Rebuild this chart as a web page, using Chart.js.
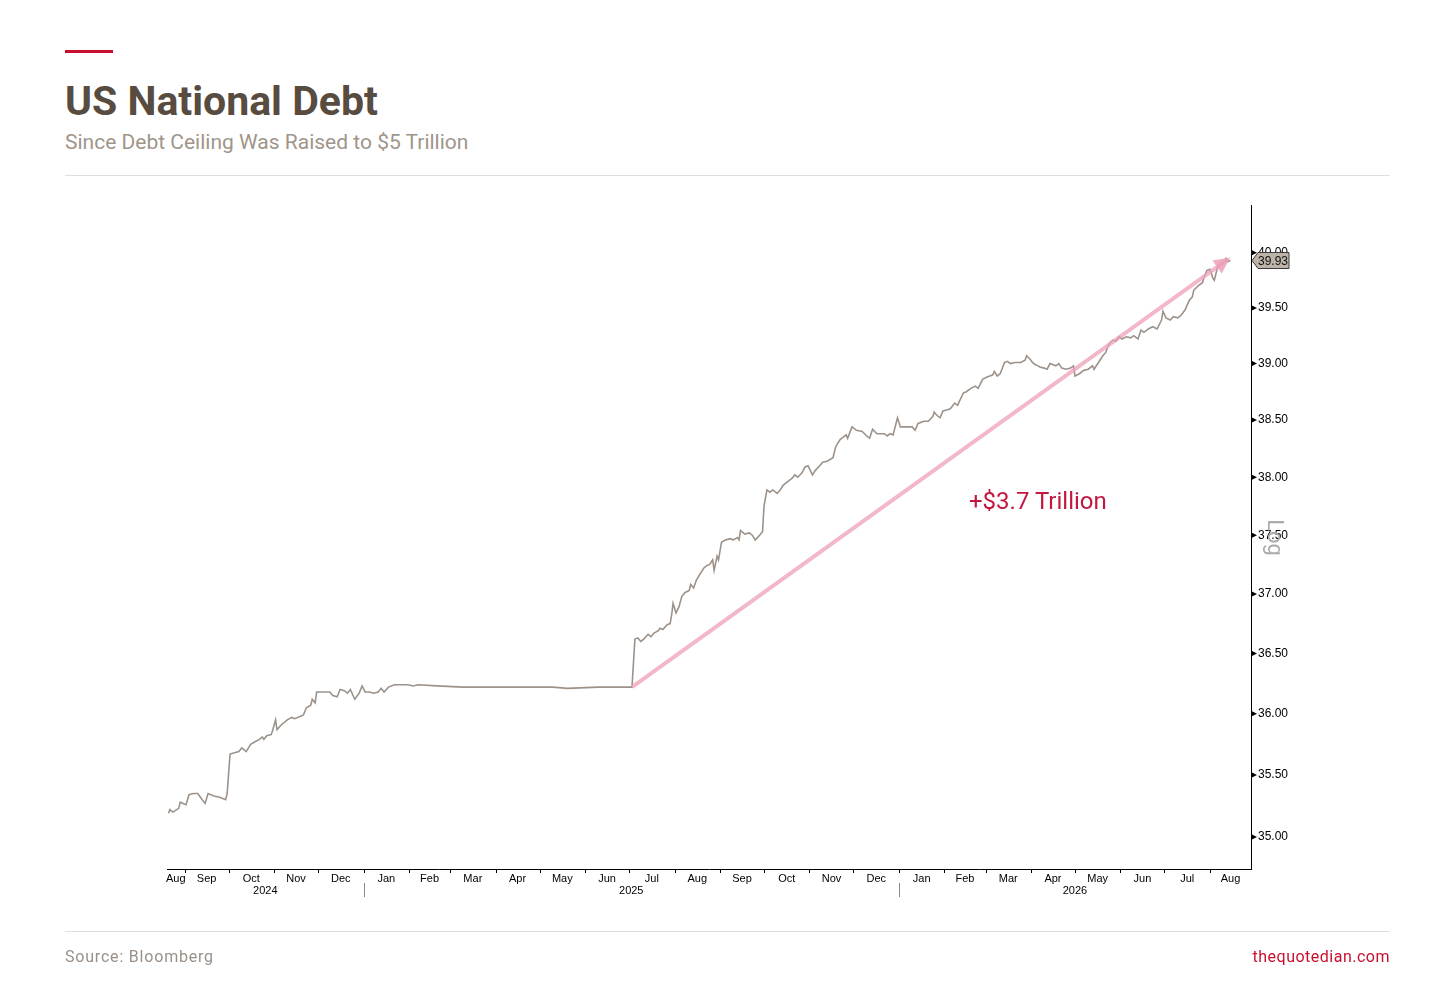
<!DOCTYPE html>
<html lang="en"><head><meta charset="UTF-8">
<title>US National Debt</title>
<script src="https://cdn.jsdelivr.net/npm/chart.js"></script>
<style>
    body {
        margin: 0;
        width: 1456px;
        height: 990px;
        background: #fff;
        position: relative;
        overflow: hidden;
        font-family: Roboto, "Noto Sans", sans-serif;
    }
    .redbar { position: absolute; left: 65px; top: 50px; width: 48px; height: 3px; background: #c8102e; }
    .title {
        position: absolute; left: 65px; top: 81px; margin: 0;
        font-size: 41px; line-height: 41px; font-weight: 700; color: #584b3f;
    }
    .subtitle {
        position: absolute; left: 65px; top: 132px;
        font-size: 21px; line-height: 21px; color: #a0958a;
    }
    .rule { position: absolute; left: 65px; width: 1325px; height: 1px; background: #e0dede; }
    .note {
        position: absolute; left: 969px; top: 489px;
        font-size: 24px; line-height: 24px; color: #c4173f;
    }
    .source {
        position: absolute; left: 65px; top: 949px;
        font-size: 16px; line-height: 16px; color: #9a9088; letter-spacing: 0.8px;
    }
    .site {
        position: absolute; right: 66px; top: 949px;
        font-size: 16px; line-height: 16px; color: #c8102e; letter-spacing: 0.5px;
    }
    #chart { position: absolute; left: 0; top: 0; }
</style>
</head>
<body>
    <div class="redbar"></div>
    <h1 class="title">US National Debt</h1>
    <div class="subtitle">Since Debt Ceiling Was Raised to $5 Trillion</div>
    <div class="rule" style="top:175px"></div>
    <canvas id="chart" width="1456" height="990"></canvas>
    <div class="note">+$3.7 Trillion</div>
    <div class="rule" style="top:931px"></div>
    <div class="source">Source: Bloomberg</div>
    <div class="site">thequotedian.com</div>
<script>
// debt outstanding, $ trillion
const debtDates = [
    "2024-08-21","2024-08-22","2024-08-24","2024-08-28","2024-08-29","2024-08-31",
    "2024-09-02","2024-09-04","2024-09-07","2024-09-10","2024-09-13","2024-09-15","2024-09-17","2024-09-21","2024-09-25","2024-09-29","2024-09-30",
    "2024-10-02","2024-10-05","2024-10-08","2024-10-10","2024-10-13","2024-10-16","2024-10-19","2024-10-22","2024-10-24","2024-10-25","2024-10-27","2024-10-30","2024-10-31",
    "2024-11-02","2024-11-03","2024-11-06","2024-11-10","2024-11-13","2024-11-15","2024-11-19","2024-11-21","2024-11-23","2024-11-26","2024-11-27","2024-11-29","2024-11-30",
    "2024-12-05","2024-12-09","2024-12-11","2024-12-14","2024-12-16","2024-12-19","2024-12-21","2024-12-23","2024-12-26","2024-12-29","2024-12-31",
    "2025-01-02","2025-01-05","2025-01-08","2025-01-11","2025-01-13","2025-01-15","2025-01-18","2025-01-22","2025-01-26","2025-01-31",
    "2025-02-04","2025-02-07","2025-02-20",
    "2025-03-10","2025-04-10","2025-05-10","2025-05-20","2025-06-10",
    "2025-07-03","2025-07-05","2025-07-07","2025-07-09","2025-07-11","2025-07-14","2025-07-16","2025-07-18","2025-07-21","2025-07-22","2025-07-24","2025-07-27","2025-07-29","2025-07-30","2025-07-31",
    "2025-08-02","2025-08-04","2025-08-06","2025-08-08","2025-08-11","2025-08-12","2025-08-14","2025-08-16","2025-08-19","2025-08-21","2025-08-23","2025-08-25","2025-08-27","2025-08-28","2025-08-30","2025-08-31",
    "2025-09-02","2025-09-05","2025-09-08","2025-09-10","2025-09-13","2025-09-14","2025-09-15","2025-09-18","2025-09-21","2025-09-23","2025-09-25","2025-09-28","2025-09-30",
    "2025-10-01","2025-10-03","2025-10-05","2025-10-07","2025-10-10","2025-10-12","2025-10-14","2025-10-18","2025-10-20","2025-10-22","2025-10-24","2025-10-27","2025-10-29","2025-10-31",
    "2025-11-03","2025-11-05","2025-11-08","2025-11-10","2025-11-13","2025-11-17","2025-11-19","2025-11-22","2025-11-24","2025-11-26","2025-11-27","2025-11-30",
    "2025-12-03","2025-12-07","2025-12-10","2025-12-12","2025-12-14","2025-12-17","2025-12-22","2025-12-24","2025-12-26","2025-12-28","2025-12-31",
    "2026-01-02","2026-01-06","2026-01-10","2026-01-12","2026-01-14","2026-01-18","2026-01-21","2026-01-24","2026-01-25","2026-01-27","2026-01-29","2026-01-31",
    "2026-02-03","2026-02-05","2026-02-08","2026-02-10","2026-02-11","2026-02-14","2026-02-16","2026-02-19","2026-02-22","2026-02-24","2026-02-27",
    "2026-03-02","2026-03-04","2026-03-06","2026-03-07","2026-03-09","2026-03-11","2026-03-14","2026-03-16","2026-03-18","2026-03-21","2026-03-25","2026-03-28","2026-03-29",
    "2026-04-01","2026-04-02","2026-04-04","2026-04-06","2026-04-07","2026-04-10","2026-04-12","2026-04-14","2026-04-18","2026-04-20","2026-04-22","2026-04-25","2026-04-28","2026-04-30",
    "2026-05-01","2026-05-04","2026-05-07","2026-05-10","2026-05-13","2026-05-14","2026-05-17","2026-05-20","2026-05-22","2026-05-23","2026-05-25","2026-05-27","2026-05-29","2026-05-31",
    "2026-06-02","2026-06-05","2026-06-08","2026-06-10","2026-06-13","2026-06-15","2026-06-17","2026-06-20","2026-06-23","2026-06-26","2026-06-29","2026-06-30",
    "2026-07-02","2026-07-05","2026-07-07","2026-07-10","2026-07-12","2026-07-15","2026-07-18","2026-07-20","2026-07-21","2026-07-24","2026-07-27","2026-07-28","2026-07-30",
    "2026-08-01","2026-08-03","2026-08-04","2026-08-06","2026-08-08","2026-08-10","2026-08-12","2026-08-13","2026-08-15"
];
const debtValues = [
    35.19,35.22,35.20,35.23,35.28,35.27,
    35.26,35.34,35.35,35.35,35.30,35.27,35.35,35.33,35.32,35.30,35.35,
    35.67,35.68,35.69,35.72,35.69,35.75,35.77,35.79,35.81,35.79,35.82,35.83,35.86,
    35.95,35.87,35.91,35.95,35.97,35.96,35.98,35.99,36.05,36.07,36.12,36.09,36.18,
    36.18,36.18,36.15,36.14,36.20,36.19,36.17,36.20,36.12,36.17,36.23,
    36.18,36.18,36.17,36.18,36.21,36.18,36.22,36.24,36.24,36.24,
    36.23,36.24,36.23,
    36.22,36.22,36.22,36.21,36.22,
    36.22,36.62,36.63,36.60,36.62,36.66,36.64,36.67,36.69,36.71,36.70,36.74,36.75,36.82,36.92,
    36.84,36.89,36.98,37.01,37.03,37.08,37.05,37.12,37.18,37.22,37.24,37.25,37.29,37.20,37.32,37.29,
    37.44,37.46,37.47,37.46,37.48,37.46,37.54,37.51,37.52,37.50,37.46,37.50,37.53,
    37.75,37.89,37.87,37.89,37.86,37.89,37.93,37.97,37.99,38.02,38.00,38.04,38.09,38.10,
    38.02,38.06,38.10,38.13,38.14,38.17,38.27,38.33,38.35,38.37,38.34,38.44,
    38.41,38.40,38.36,38.34,38.42,38.38,38.38,38.36,38.38,38.37,38.52,
    38.44,38.44,38.44,38.41,38.47,38.49,38.49,38.53,38.57,38.54,38.52,38.58,
    38.59,38.60,38.65,38.63,38.66,38.74,38.75,38.78,38.80,38.78,38.86,
    38.88,38.89,38.90,38.93,38.89,38.91,39.01,39.02,39.00,39.01,39.01,39.03,39.07,
    39.03,39.01,38.99,38.98,38.97,38.96,38.95,39.00,38.98,39.00,38.96,38.95,38.96,38.98,
    38.89,38.91,38.94,38.95,38.98,38.95,39.01,39.07,39.10,39.14,39.19,39.21,39.20,39.24,
    39.22,39.24,39.23,39.25,39.22,39.30,39.28,39.31,39.33,39.31,39.39,39.47,
    39.41,39.39,39.42,39.41,39.43,39.48,39.57,39.60,39.66,39.70,39.73,39.78,39.84,
    39.85,39.77,39.75,39.86,39.90,39.91,39.95,39.92,39.93
];

// pink arrow: from the day the ceiling was lifted to the latest print
const arrowDates = ["2025-07-03", "2026-08-12"];
const arrowValues = [36.22, 39.93];

const axisStart = "2024-08-20";
const axisEnd = "2026-08-29";
const yMin = 34.745;
const yMax = 40.44;
const yTicks = [35, 35.5, 36, 36.5, 37, 37.5, 38, 38.5, 39, 39.5, 40];

const monthStarts = [
    "2024-08-01","2024-09-01","2024-10-01","2024-11-01","2024-12-01",
    "2025-01-01","2025-02-01","2025-03-01","2025-04-01","2025-05-01","2025-06-01",
    "2025-07-01","2025-08-01","2025-09-01","2025-10-01","2025-11-01","2025-12-01",
    "2026-01-01","2026-02-01","2026-03-01","2026-04-01","2026-05-01","2026-06-01",
    "2026-07-01","2026-08-01","2026-09-01"
];
const monthLabels = [
    "Aug","Sep","Oct","Nov","Dec",
    "Jan","Feb","Mar","Apr","May","Jun",
    "Jul","Aug","Sep","Oct","Nov","Dec",
    "Jan","Feb","Mar","Apr","May","Jun",
    "Jul","Aug"
];
const yearStarts = ["2025-01-01", "2026-01-01"];
const yearLabels = ["2024", "2025", "2026"];

const ms = s => Date.parse(s);
const xMin = ms(axisStart), xMax = ms(axisEnd);

// label each month in the middle of the part of it that is on the axis
const monthMids = monthLabels.map((_, i) => {
    let a = Math.max(ms(monthStarts[i]), xMin);
    let b = Math.min(ms(monthStarts[i + 1]), xMax);
    return (a + b) / 2;
});

const debtPoints = debtDates.map((d, i) => ({x: ms(d), y: debtValues[i]}));
const arrowPoints = arrowDates.map((d, i) => ({x: ms(d), y: arrowValues[i]}));

const tickFont = "Liberation Sans, Arial, sans-serif";

const decorations = {
    id: "decorations",
    afterDraw(chart) {
        const ctx = chart.ctx;
        const area = chart.chartArea;
        const xs = chart.scales.x, ys = chart.scales.y;
        ctx.save();

        // month boundary tick marks
        ctx.strokeStyle = "#000";
        ctx.lineWidth = 1;
        monthStarts.forEach(m => {
            let t = ms(m);
            if (t <= xMin || t >= xMax) return;
            let px = Math.round(xs.getPixelForValue(t)) + 0.5;
            ctx.beginPath();
            ctx.moveTo(px, area.bottom);
            ctx.lineTo(px, area.bottom + 4);
            ctx.stroke();
        });

        // year separators and year labels
        ctx.strokeStyle = "#8a8a8a";
        yearStarts.forEach(y => {
            let px = Math.round(xs.getPixelForValue(ms(y))) + 0.5;
            ctx.beginPath();
            ctx.moveTo(px, area.bottom + 14);
            ctx.lineTo(px, area.bottom + 28);
            ctx.stroke();
        });
        let edges = [xMin].concat(yearStarts.map(ms), [xMax]);
        ctx.fillStyle = "#000";
        ctx.font = "11px " + tickFont;
        ctx.textAlign = "center";
        ctx.textBaseline = "middle";
        yearLabels.forEach((lab, i) => {
            let px = xs.getPixelForValue((edges[i] + edges[i + 1]) / 2);
            ctx.fillText(lab, px, area.bottom + 22);
        });

        // little pointer ticks on the right axis
        ys.ticks.forEach(t => {
            let py = ys.getPixelForValue(t.value);
            ctx.beginPath();
            ctx.moveTo(area.right, py - 3);
            ctx.lineTo(area.right + 6, py);
            ctx.lineTo(area.right, py + 3);
            ctx.closePath();
            ctx.fill();
        });

        // arrow head
        const meta = chart.getDatasetMeta(1);
        const p1 = meta.data[0], p2 = meta.data[1];
        const a = Math.atan2(p2.y - p1.y, p2.x - p1.x);
        const tipX = p2.x + 5 * Math.cos(a), tipY = p2.y + 5 * Math.sin(a);
        ctx.fillStyle = "rgba(238, 160, 184, 0.85)";
        ctx.beginPath();
        ctx.moveTo(tipX, tipY);
        ctx.lineTo(tipX - 16 * Math.cos(a) - 8 * Math.sin(a), tipY - 16 * Math.sin(a) + 8 * Math.cos(a));
        ctx.lineTo(tipX - 16 * Math.cos(a) + 8 * Math.sin(a), tipY - 16 * Math.sin(a) - 8 * Math.cos(a));
        ctx.closePath();
        ctx.fill();

        // last value tag
        const last = debtValues[debtValues.length - 1];
        const py = ys.getPixelForValue(last);
        const x0 = area.right + 1;
        ctx.beginPath();
        ctx.moveTo(x0, py);
        ctx.lineTo(x0 + 6, py - 8);
        ctx.lineTo(x0 + 37, py - 8);
        ctx.lineTo(x0 + 37, py + 8);
        ctx.lineTo(x0 + 6, py + 8);
        ctx.closePath();
        ctx.fillStyle = "#bdb4a9";
        ctx.fill();
        ctx.strokeStyle = "#3a3a3a";
        ctx.stroke();
        ctx.fillStyle = "#111";
        ctx.font = "12px " + tickFont;
        ctx.textAlign = "center";
        ctx.fillText(last.toFixed(2), x0 + 21, py + 1);

        // "Log" scale marker
        ctx.translate(area.right + 22, ys.getPixelForValue(37.48));
        ctx.rotate(Math.PI / 2);
        ctx.fillStyle = "#ababab";
        ctx.font = "22px Roboto, sans-serif";
        ctx.fillText("Log", 0, 0);
        ctx.restore();
    }
};

new Chart(document.getElementById("chart"), {
    type: "line",
    data: {
        datasets: [
            {
                data: debtPoints,
                borderColor: "#9d9289",
                borderWidth: 1.6,
                pointRadius: 0,
                tension: 0,
                order: 1
            },
            {
                data: arrowPoints,
                borderColor: "rgba(238, 160, 184, 0.75)",
                borderWidth: 4,
                pointRadius: 0,
                order: 0
            }
        ]
    },
    options: {
        responsive: false,
        animation: false,
        events: [],
        layout: {padding: {left: 167, top: 205, right: 145, bottom: 71}},
        plugins: {legend: {display: false}, tooltip: {enabled: false}},
        scales: {
            x: {
                type: "linear",
                bounds: "data",
                min: xMin,
                max: xMax,
                afterBuildTicks: s => { s.ticks = monthMids.map(v => ({value: v})); },
                afterFit: s => { s.height = 50; },
                ticks: {
                    autoSkip: false,
                    maxRotation: 0,
                    minRotation: 0,
                    padding: 3,
                    color: "#000",
                    font: {family: tickFont, size: 11},
                    callback: (v, i) => monthLabels[i]
                },
                grid: {display: false, drawTicks: false},
                border: {display: true, color: "#000", width: 1}
            },
            y: {
                type: "logarithmic",
                bounds: "data",
                position: "right",
                min: yMin,
                max: yMax,
                afterBuildTicks: s => { s.ticks = yTicks.map(v => ({value: v})); },
                afterFit: s => { s.width = 60; },
                ticks: {
                    autoSkip: false,
                    padding: 1,
                    color: "#000",
                    font: {family: tickFont, size: 12},
                    callback: v => Number(v).toFixed(2)
                },
                grid: {drawOnChartArea: false, drawTicks: true, tickLength: 6, tickColor: "rgba(0,0,0,0)"},
                border: {display: true, color: "#000", width: 1}
            }
        }
    },
    plugins: [decorations]
});
</script>
</body>
</html>
